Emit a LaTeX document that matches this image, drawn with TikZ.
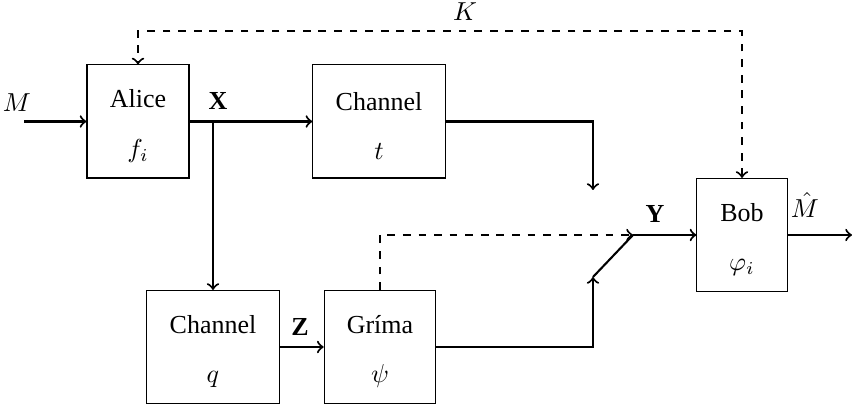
\documentclass[tikz,border=0pt]{standalone}
\usepackage{fontspec}
\setmainfont{Liberation Serif}
\usepackage{amsmath}
\usepackage{amssymb}

\tikzset{
  blockbox/.style={draw, align=center, minimum height=1.53cm, inner sep=2pt},
  sig/.style={thick,->},
}
\newcommand{\topstrut}{\rule{0pt}{10.5pt}}

\begin{document}
\begin{tikzpicture}[x=0.01353cm,y=-0.01353cm,>=to]
\useasboundingbox (0,0) rectangle (852,409);

% Blocks
\node[blockbox, minimum width=1.38cm] (alice) at (138,121.5) {\topstrut Alice\\[7pt]$f_i$};
\node[blockbox, minimum width=1.79cm] (chant) at (379,121.5) {\topstrut Channel\\[7pt]$t$};
\node[blockbox, minimum width=1.79cm] (chanq) at (213,347) {\topstrut Channel\\[7pt]$q$};
\node[blockbox, minimum width=1.51cm] (grima) at (380,347) {\topstrut Gríma\\[7pt]$\psi$};
\node[blockbox, minimum width=1.22cm] (bob) at (742,235) {\topstrut Bob\\[7pt]$\varphi_i$};

% Points
\coordinate (min) at (24,121.5);
\coordinate (split) at (213,121.5);
\coordinate (ctop) at (593,190);
\coordinate (cbot) at (593,277);
\coordinate (pivot) at (633,235);
\coordinate (mout) at (852,235);
\coordinate (kline) at (0,31);

% Signals
\draw[sig] (min) -- (alice);
\draw[sig] (alice) -- (chant);
\draw[sig] (split) -- (chanq);
\draw[sig] (chanq) -- (grima);
\draw[sig] (chant.east) -| (ctop);
\draw[sig] (grima.east) -| (cbot);
\draw[thick] (cbot) -- (pivot);
\draw[sig] (pivot) -- (bob);
\draw[sig] (bob) -- (mout);

% Eavesdropper and key
\draw[sig,dashed] (grima.north) |- (pivot);
\draw[thick,<->,dashed] (bob.north) -- (bob.north |- kline) -| (alice.north);

% Labels
\node (mlab) at (17,103) {$M$};
\node (xlab) at (218,101) {$\mathbf{X}$};
\node (zlab) at (300,327) {$\mathbf{Z}$};
\node (ylab) at (655,214) {$\mathbf{Y}$};
\node (mhat) at (805,205) {$\hat{M}$};
\node (klab) at (465,12) {$K$};
\end{tikzpicture}
\end{document}
